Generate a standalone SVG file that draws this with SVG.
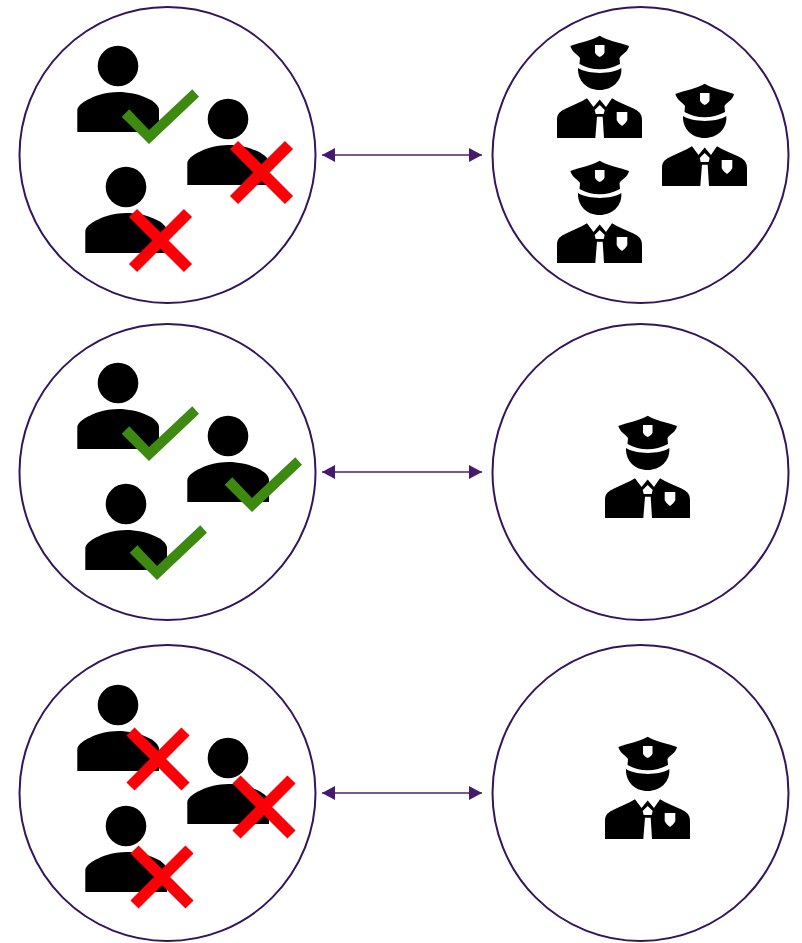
<svg xmlns="http://www.w3.org/2000/svg" width="802" height="943" viewBox="0 0 802 943">
<style>
.ring{fill:#fff;stroke:#34155c;stroke-width:2}
.link{fill:none;stroke:#4a1f72;stroke-width:1.6;marker-start:url(#head);marker-end:url(#head)}
.cross{fill:none;stroke:#fb0007;stroke-width:11.5}
</style>
<defs>
<marker id="head" viewBox="0 0 13 14" refX="13" refY="7" markerWidth="13" markerHeight="14" markerUnits="userSpaceOnUse" orient="auto-start-reverse"><path d="M0,0L13,7L0,14Z" fill="#451a6e"/></marker>
<g id="person">
<circle cx="118" cy="66" r="20.3" fill="#000"/>
<path d="M77.300,132V110C77.300,103 98,92 118.300,92C138,92 159,101 159,110V132Z" fill="#000"/>
</g>
<path id="tick" fill="#3c8a10" d="M121.700,116.700L129.300,109.300L149,130L192.300,89.300L199,96.700L149,144Z"/>
<g id="officer">
<path d="M25.300,21C35,17 46,16 54.700,10.700C63,16 74,17 84,21C83,27 77,29 74.500,33L75,39C62,46 47,46 34.500,39L35,33C32,29 27,27 25.300,21Z" fill="#000"/>
<path d="M50,20H59.500V27.500C59,29.500 56.500,31 54.700,32C53,31 50.500,29.500 50,27.500Z" fill="#fff"/>
<path d="M33,43C44,49.500 66,49.500 76.300,43C77.500,56 67,65 54.700,65C42,65 32.500,56 33,43Z" fill="#000"/>
<path d="M12,113V95C12,88 16,86 21,83.500C28,80 36,77 42,73.300L48.500,82L54.700,74.500L61,82L67,73.300C73,77 81,80 88.500,83.500C93,86 97,88 97,95V113Z" fill="#000"/>
<path d="M49.700,85L54.700,80L59.700,85L58.700,89H50.700Z" fill="#fff"/>
<path d="M52,91.700H57.700L59,113H50.300Z" fill="#fff"/>
<path d="M71.700,87H82.300V95C81,98 79,99.500 77,101C75,99.500 73,98 71.700,95Z" fill="#fff"/>
</g>
</defs>
<g id="connectors">
<path class="link" d="M322,155H482"/>
<path class="link" d="M322,472H482"/>
<path class="link" d="M322,793H482"/>
</g>
<g id="crowd-top">
<circle class="ring" cx="167.500" cy="155" r="148"/>
<use href="#person"/>
<use href="#person" x="110" y="53"/>
<use href="#person" x="8" y="121"/>
<use href="#tick"/>
<path class="cross" d="M234,145L289,200M289,145L234,200"/>
<path class="cross" d="M133,213L188,268M188,213L133,268"/>
</g>
<g id="officers-top">
<circle class="ring" cx="640.500" cy="155" r="148"/>
<use href="#officer" x="545" y="25"/>
<use href="#officer" x="650" y="73"/>
<use href="#officer" x="545" y="150"/>
</g>
<g id="crowd-middle">
<circle class="ring" cx="167.500" cy="472" r="148"/>
<use href="#person" y="317"/>
<use href="#person" x="110" y="370"/>
<use href="#person" x="8" y="438"/>
<use href="#tick" y="317"/>
<use href="#tick" x="103" y="368"/>
<use href="#tick" x="8" y="436"/>
</g>
<g id="officers-middle">
<circle class="ring" cx="640.500" cy="472" r="148"/>
<use href="#officer" x="593" y="405"/>
</g>
<g id="crowd-bottom">
<circle class="ring" cx="167.500" cy="793" r="148"/>
<use href="#person" y="639"/>
<use href="#person" x="110" y="692"/>
<use href="#person" x="8" y="760"/>
<path class="cross" d="M130.500,731.500L185.500,786.500M185.500,731.500L130.500,786.500"/>
<path class="cross" d="M236.500,779.500L291.500,834.500M291.500,779.500L236.500,834.500"/>
<path class="cross" d="M134.500,849.500L189.500,904.500M189.500,849.500L134.500,904.500"/>
</g>
<g id="officers-bottom">
<circle class="ring" cx="640.500" cy="793" r="148"/>
<use href="#officer" x="593" y="726"/>
</g>
</svg>
